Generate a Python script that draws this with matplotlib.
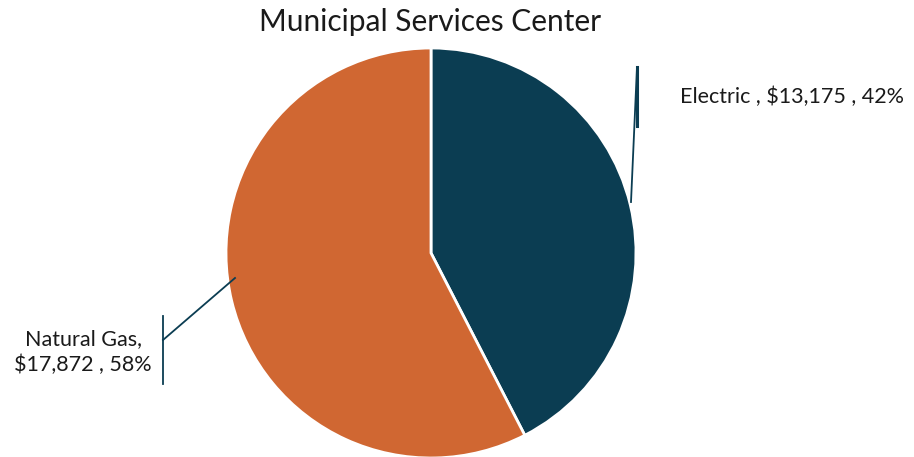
import matplotlib
matplotlib.use("Agg")
import matplotlib.pyplot as plt

categories = ["Electric", "Natural Gas"]
values = [13175, 17872]
percents = ["42%", "58%"]
colors = ["#0B3D52", "#D06732"]
title = "Municipal Services Center"

W, H = 914, 457
CX, CY, R = 431, 253, 205

def px(x, y):
    return ((x - CX) / R, (CY - y) / R)

fig = plt.figure(figsize=(W / 100, H / 100), dpi=100)
ax = fig.add_axes([0, 0, 1, 1])

ax.pie(values, colors=colors, startangle=90, counterclock=False, radius=1,
       wedgeprops=dict(edgecolor="white", linewidth=2))

ax.set_xlim(px(0, 0)[0], px(W, 0)[0])
ax.set_ylim(px(0, H)[1], px(0, 0)[1])
ax.set_aspect("equal", adjustable="box")
ax.axis("off")

line_c = "#0B3D52"
font = "Lato"

# Electric leader
a, b = px(631, 202), px(637, 67)
ax.plot([a[0], b[0]], [a[1], b[1]], color=line_c, lw=1.3)
a, b = px(637, 67), px(637, 126)
ax.plot([a[0], b[0]], [a[1], b[1]], color=line_c, lw=2.2)
t = px(680, 97)
ax.text(t[0], t[1], f"{categories[0]} , ${values[0]:,} , {percents[0]}",
        ha="left", va="center", fontsize=15.5, family=font, color="#1a1a1a")

# Natural Gas leader
a, b = px(235, 278), px(163, 340)
ax.plot([a[0], b[0]], [a[1], b[1]], color=line_c, lw=1.3)
a, b = px(163, 316), px(163, 384)
ax.plot([a[0], b[0]], [a[1], b[1]], color=line_c, lw=1.3)
t = px(83, 352)
ax.text(t[0], t[1], f"{categories[1]},\n${values[1]:,} , {percents[1]}",
        ha="center", va="center", fontsize=15.5, family=font, color="#1a1a1a",
        linespacing=1.35, multialignment="center")

t = px(430, 22)
ax.text(t[0], t[1], title, ha="center", va="center", fontsize=21.5,
        family=font, color="#1a1a1a")

fig.savefig("out.png", dpi=100)
